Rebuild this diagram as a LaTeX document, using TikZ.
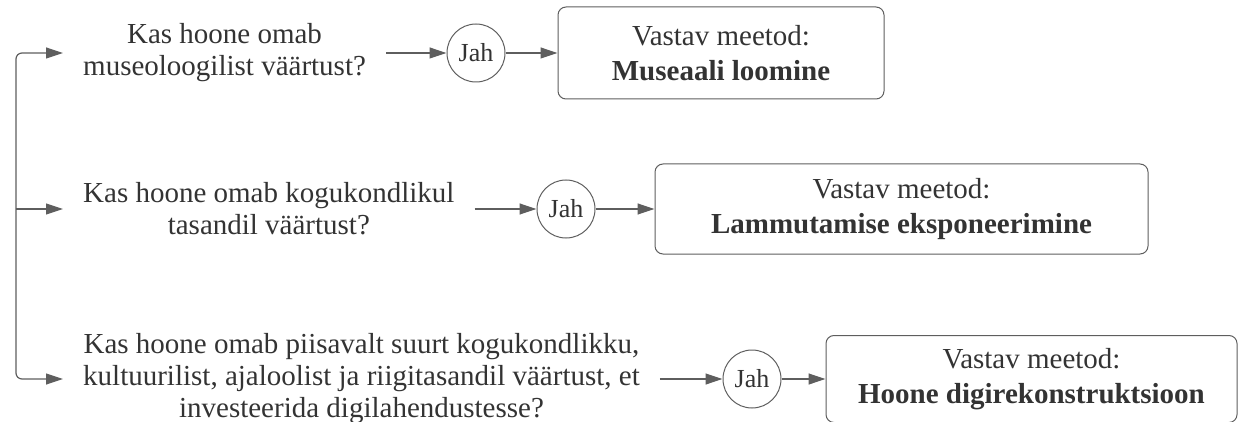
\documentclass[tikz,border=0pt]{standalone}
\usepackage{fontspec}
\setmainfont{Liberation Serif}
\usetikzlibrary{arrows.meta,positioning}
\definecolor{textgray}{HTML}{333333}
\definecolor{linegray}{HTML}{5E5E5E}
\tikzstyle{question} = [align=center, inner xsep=20pt, inner ysep=0pt, text=textgray, font=\fontsize{29}{32}\selectfont]
\tikzstyle{answer} = [circle, draw=linegray, line width=1pt, minimum size=58pt, inner sep=0pt, text=textgray, font=\fontsize{26}{30}\selectfont]
\tikzstyle{method} = [rectangle, rounded corners=8pt, draw=linegray, line width=1pt, align=center, text=textgray, font=\fontsize{29}{35}\selectfont]
\tikzstyle{flowArrow} = [line width=1.2pt, draw=linegray, -{Triangle[length=17pt,width=11pt]}]

\begin{document}
\begin{tikzpicture}[x=1pt, y=-1pt]
		\useasboundingbox (0,0) rectangle (1242,422);
		%blocks
		\coordinate (spine) at (16,209);
		\node[question, anchor=west](museum) at (63,53){Kas hoone omab\\museoloogilist väärtust?};
		\node[question, anchor=west](community) at (63,209){Kas hoone omab kogukondlikul\\tasandil väärtust?};
		\node[question, anchor=west](national) at (63,379){Kas hoone omab piisavalt suurt kogukondlikku,\\kultuurilist, ajaloolist ja riigitasandil väärtust, et\\investeerida digilahendustesse?};
		\node[answer](yesMuseum) at (476,53){Jah};
		\node[answer](yesCommunity) at (566,209){Jah};
		\node[answer](yesNational) at (752,379){Jah};
		\node[method, minimum width=326pt, minimum height=92pt, right=52pt of yesMuseum](exhibit){Vastav meetod:\\\textbf{Museaali loomine}};
		\node[method, minimum width=493pt, minimum height=90pt, right=59pt of yesCommunity](demolish){Vastav meetod:\\\textbf{Lammutamise eksponeerimine}};
		\node[method, minimum width=411pt, minimum height=87pt, right=44pt of yesNational](digital){Vastav meetod:\\\textbf{Hoone digirekonstruktsioon}};

		%arrows
		\draw[flowArrow, rounded corners=6pt](spine) |- (museum);
		\draw[flowArrow](spine) -- (community);
		\draw[flowArrow, rounded corners=6pt](spine) |- (national);
		\draw[flowArrow](museum.east) -- (yesMuseum);
		\draw[flowArrow](community.east) -- (yesCommunity);
		\draw[flowArrow](national.east) -- (yesNational);
		\draw[flowArrow](yesMuseum) -- (exhibit);
		\draw[flowArrow](yesCommunity) -- (demolish);
		\draw[flowArrow](yesNational) -- (digital);
	\end{tikzpicture}
\end{document}
